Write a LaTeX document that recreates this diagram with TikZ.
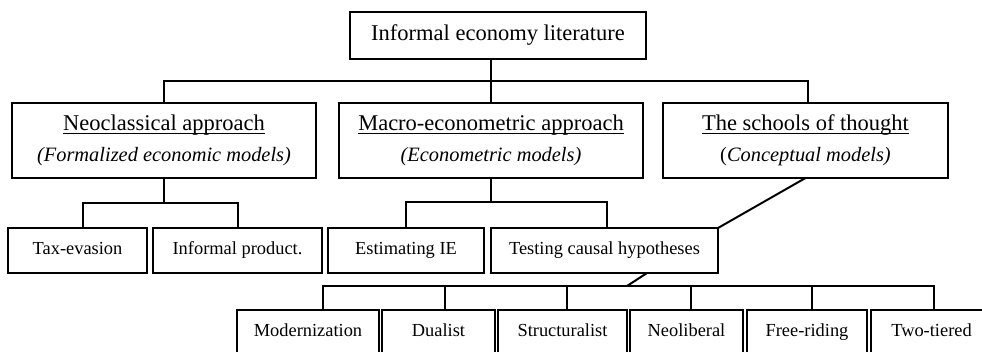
\documentclass[tikz,border=0pt]{standalone}
\usepackage{fontspec}
\setmainfont{Liberation Serif}
\newcommand\myul[1]{\leavevmode\setbox0\hbox{#1}\rlap{\vrule height -2.6pt depth 3.6pt width \wd0}\box0}
\newcommand\myitf{\fontsize{20.4}{31}\selectfont\itshape}
\newcommand\mysmf{\fontsize{20.4}{31}\selectfont}
\begin{document}
\begin{tikzpicture}[x=1pt,y=-1pt,line width=2pt,
  lvA/.style={draw,inner sep=0pt,outer sep=0pt,minimum height=47,align=center,font=\fontsize{22.5}{31}\selectfont},
  lvB/.style={draw,inner sep=0pt,outer sep=0pt,minimum height=75,align=center,font=\fontsize{22.5}{31}\selectfont},
  lvC/.style={draw,inner sep=0pt,outer sep=0pt,minimum height=45,text height=12.7pt,text depth=4pt,font=\fontsize{18.4}{22}\selectfont}]
\clip (0,0) rectangle (982,351);
% level 1
\node[lvA,minimum width=296] (top) at (498,35.5) {Informal economy literature};
% level 2
\node[lvB,minimum width=304] (neo) at (164,140.5) {\myul{Neoclassical approach}\\{\myitf (Formalized economic models)}};
\node[lvB,minimum width=304] (macro) at (491,140.5) {\myul{Macro-econometric approach}\\{\myitf (Econometric models)}};
\node[lvB,minimum width=285] (schools) at (805.5,140.5) {\myul{The schools of thought}\\{\mysmf(\textit{Conceptual models)}}};
% level 3
\node[lvC,minimum width=139] (tax) at (77.5,250.5) {Tax-evasion};
\node[lvC,minimum width=169] (infp) at (237.5,250.5) {Informal product.};
\node[lvC,minimum width=156] (est) at (406,250.5) {Estimating IE};
\node[lvC,minimum width=227] (test) at (604.5,250.5) {Testing causal hypotheses};
% level 4
\node[lvC,minimum width=142] (mod) at (308,332.5) {Modernization};
\node[lvC,minimum width=113] (dual) at (438.5,332.5) {Dualist};
\node[lvC,minimum width=129] (struc) at (562.5,332.5) {Structuralist};
\node[lvC,minimum width=113] (neol) at (686.5,332.5) {Neoliberal};
\node[lvC,minimum width=120] (free) at (807,332.5) {Free-riding};
\node[lvC,minimum width=121] (two) at (931.5,332.5) {Two-tiered};
% connectors
\coordinate (b1) at (491,81);
\draw (top.south -| macro.north) -- (macro.north);
\draw (neo.north) |- (b1) -| ([xshift=2.5]schools.north);
\coordinate (b2) at (164,203);
\draw (neo.south) -- (b2);
\draw ([xshift=5.5]tax.north) |- (b2) -| ([xshift=0.5]infp.north);
\coordinate (b3) at (491,202);
\draw (macro.south) -- (b3);
\draw (est.north) |- (b3) -| ([xshift=2.5]test.north);
\draw (schools.south) -- (test.north east);
\coordinate (b4) at (627,286);
\draw ([xshift=42.5]test.south) -- (b4);
\draw ([xshift=15]mod.north) |- (b4) -| ([xshift=2.5]two.north);
\foreach \n/\s in {dual/6.5,struc/4.5,neol/4.5,free/5}{
  \coordinate (s) at ([xshift=\s]\n.north);
  \draw (s) -- (s |- b4);
}
\end{tikzpicture}
\end{document}
